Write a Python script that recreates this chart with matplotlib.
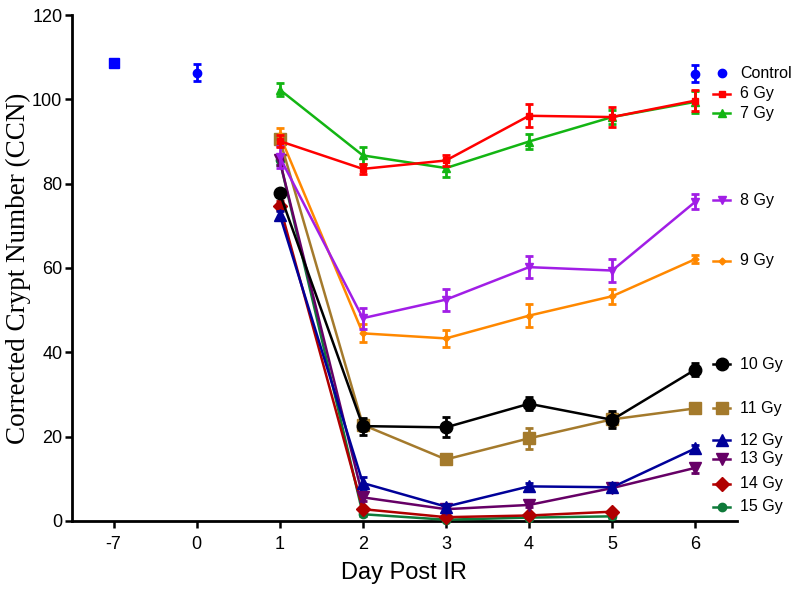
import numpy as np
import matplotlib
matplotlib.use('Agg')
import matplotlib.pyplot as plt

# x categories (equally spaced on the axis)
day_labels = ['-7', '0', '1', '2', '3', '4', '5', '6']

# control group
ctrl_days = ['-7', '0', '6']
ctrl_mean = [108.6, 106.3, 106.1]
ctrl_err = [0.5, 2.0, 2.0]

# irradiated groups, days 1..6
ir_days = ['1', '2', '3', '4', '5', '6']
gy6 = [90.1, 83.5, 85.5, 96.1, 95.8, 99.7]
gy6_err = [1.5, 1.2, 1.2, 2.7, 2.4, 2.5]
gy7 = [102.3, 86.7, 83.7, 90.0, 95.8, 99.4]
gy7_err = [1.6, 2.0, 2.0, 1.8, 1.6, 2.6]
gy8 = [86.3, 48.1, 52.5, 60.2, 59.4, 75.7]
gy8_err = [2.6, 2.5, 2.6, 2.6, 2.8, 1.8]
gy9 = [91.5, 44.5, 43.3, 48.7, 53.3, 62.1]
gy9_err = [1.6, 2.1, 2.1, 2.8, 1.8, 1.0]
gy10 = [77.7, 22.5, 22.2, 27.8, 24.0, 35.9]
gy10_err = [0.8, 2.0, 2.4, 1.5, 2.0, 1.5]
gy11 = [90.5, 22.8, 14.6, 19.6, 24.1, 26.7]
gy11_err = [1.0, 1.5, 0.8, 2.5, 1.5, 0.8]
gy12 = [72.6, 9.0, 3.4, 8.2, 8.0, 17.2]
gy12_err = [1.0, 1.5, 0.6, 0.8, 1.0, 0.8]
gy13 = [85.5, 5.6, 2.8, 3.8, 7.8, 12.6]
gy13_err = [1.0, 0.8, 0.5, 0.5, 0.8, 1.2]
gy14 = [74.8, 2.8, 0.9, 1.3, 2.2]
gy14_err = [1.0, 0.5, 0.4, 0.4, 0.4]
gy15 = [85.5, 1.6, 0.3, 0.8, 1.1]
gy15_err = [1.0, 0.4, 0.2, 0.3, 0.3]

groups = [
    ('6 Gy', gy6, gy6_err, '#ff0000', 's', 5),
    ('7 Gy', gy7, gy7_err, '#13b513', '^', 5.5),
    ('8 Gy', gy8, gy8_err, '#a11ee6', 'v', 5.5),
    ('9 Gy', gy9, gy9_err, '#ff8800', 'D', 3.5),
    ('10 Gy', gy10, gy10_err, '#000000', 'o', 9),
    ('11 Gy', gy11, gy11_err, '#a47a2c', 's', 8),
    ('12 Gy', gy12, gy12_err, '#000099', '^', 9),
    ('13 Gy', gy13, gy13_err, '#660066', 'v', 9),
    ('14 Gy', gy14, gy14_err, '#b00000', 'D', 7),
    ('15 Gy', gy15, gy15_err, '#0f7a3a', 'o', 6),
]

# legend entry heights (axes fraction), matching the figure layout
legend_y = [0.885, 0.844, 0.806, 0.634, 0.514, 0.310, 0.223, 0.160, 0.123, 0.074, 0.028]

pos = {d: i for i, d in enumerate(day_labels)}

fig = plt.figure(figsize=(8, 5.89), dpi=100)
ax = fig.add_axes([0.09, 0.1155, 0.831, 0.859])

sans = ['Liberation Sans', 'DejaVu Sans']

# control
cx = [pos[d] for d in ctrl_days]
ax.errorbar(cx[1:], ctrl_mean[1:], yerr=ctrl_err[1:], fmt='o', color='#0000ff',
            ms=6, elinewidth=2, capsize=3, capthick=2, clip_on=False, zorder=20)
ax.errorbar(cx[:1], ctrl_mean[:1], yerr=ctrl_err[:1], fmt='s', color='#0000ff',
            ms=6.5, elinewidth=2, capsize=3, capthick=2, clip_on=False, zorder=20)

# heavier doses drawn underneath the lighter ones
for k, (name, vals, errs, col, mk, ms) in enumerate(groups):
    xs = [pos[d] for d in ir_days[:len(vals)]]
    ax.errorbar(xs, vals, yerr=errs, fmt='-' + mk, color=col, ms=ms, lw=1.8,
                elinewidth=2, capsize=3, capthick=2, clip_on=False,
                zorder=15 - k)

# hand-placed legend at the right side
ax.plot([0.977], [legend_y[0]], 'o', color='#0000ff', ms=6,
        transform=ax.transAxes, clip_on=False)
ax.text(1.005, legend_y[0], 'Control', transform=ax.transAxes, va='center',
        ha='left', fontsize=11.5, family=sans)
for (name, vals, errs, col, mk, ms), ly in zip(groups, legend_y[1:]):
    ax.plot([0.964, 0.99], [ly, ly], '-', color=col, lw=1.8,
            transform=ax.transAxes, clip_on=False)
    ax.plot([0.977], [ly], mk, color=col, ms=ms, transform=ax.transAxes,
            clip_on=False)
    ax.text(1.005, ly, name, transform=ax.transAxes, va='center', ha='left',
            fontsize=11.5, family=sans)

ax.set_xlim(-0.5, 7.5)
ax.set_ylim(0, 120)
ax.set_xticks(range(len(day_labels)))
ax.set_xticklabels(day_labels)
ax.set_yticks(np.arange(0, 121, 20))
for s in ['top', 'right']:
    ax.spines[s].set_visible(False)
for s in ['left', 'bottom']:
    ax.spines[s].set_linewidth(2)
ax.tick_params(width=1.8, length=5, labelsize=13)
ax.tick_params(axis='x', pad=6)
ax.tick_params(axis='y', pad=2)
for lab in ax.get_xticklabels() + ax.get_yticklabels():
    lab.set_family(sans)

ax.set_xlabel('Day Post IR', fontsize=17, family=sans, labelpad=6)
ax.set_ylabel('Corrected Crypt Number (CCN)', fontsize=19.5,
              family=['Liberation Serif', 'DejaVu Serif'], labelpad=1)

fig.savefig('out.png', dpi=100)
